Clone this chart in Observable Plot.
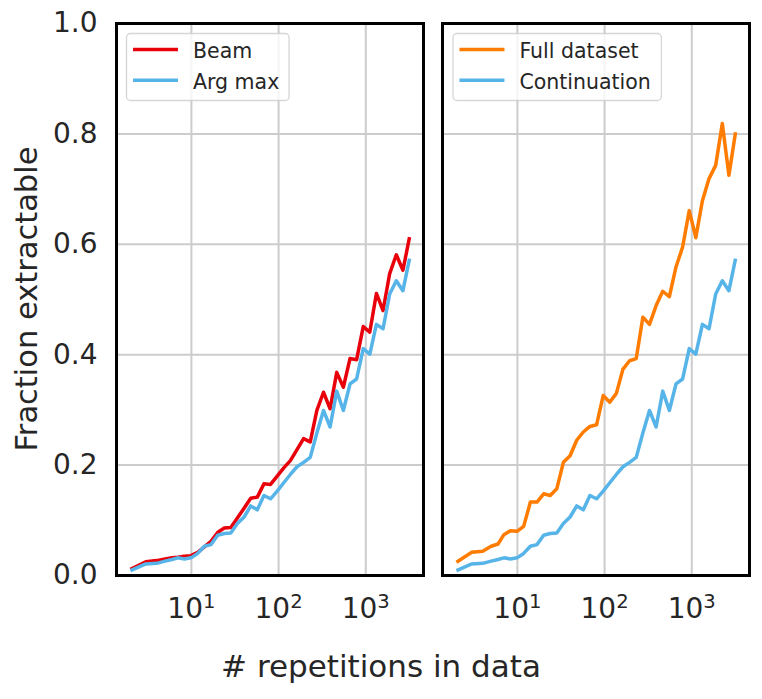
<!DOCTYPE html>
<html><head><meta charset="utf-8">
<script src="https://cdn.jsdelivr.net/npm/d3@7"></script>
<script src="https://cdn.jsdelivr.net/npm/@observablehq/plot@0.6"></script>
<style>
body{margin:0;background:#fff;}
#chart{position:relative;width:762px;height:699px;}
</style>
</head><body><div id="chart"></div>
<script>
// ---- data ----
const reps = [2,3,4,5,6,7,8.3,9.9,11.8,14.1,16.8,20,23.8,28.3,33.7,40.2,47.9,57,67.9,80.9,96.4,114.7,136.5,162.6,193.6,230.7,274.8,327.3,389.9,464.5,553.3,659.2,785.2,935.4,1112,1324,1578,1880,2239,2667,3177];
const beam = [0.011,0.025,0.027,0.030,0.032,0.033,0.035,0.036,0.042,0.052,0.062,0.078,0.086,0.087,0.104,0.122,0.140,0.142,0.166,0.165,0.180,0.195,0.208,0.228,0.248,0.242,0.299,0.332,0.302,0.368,0.341,0.393,0.391,0.451,0.441,0.511,0.480,0.547,0.581,0.553,0.613];
const argMax = [0.009,0.021,0.022,0.026,0.029,0.032,0.030,0.032,0.040,0.053,0.056,0.073,0.076,0.077,0.094,0.106,0.126,0.119,0.145,0.139,0.153,0.168,0.183,0.197,0.205,0.214,0.258,0.299,0.269,0.334,0.299,0.347,0.356,0.411,0.401,0.455,0.447,0.510,0.534,0.516,0.574];
const fullDataset = [0.024,0.042,0.044,0.053,0.057,0.074,0.081,0.080,0.089,0.133,0.133,0.148,0.145,0.157,0.205,0.217,0.245,0.260,0.270,0.273,0.326,0.314,0.330,0.374,0.389,0.393,0.468,0.455,0.489,0.515,0.505,0.559,0.595,0.661,0.612,0.679,0.719,0.743,0.819,0.725,0.803];
const continuation = [0.009,0.021,0.022,0.026,0.029,0.032,0.030,0.032,0.040,0.053,0.056,0.073,0.076,0.077,0.094,0.106,0.126,0.119,0.145,0.139,0.153,0.168,0.183,0.197,0.205,0.214,0.258,0.299,0.269,0.334,0.299,0.347,0.356,0.411,0.401,0.455,0.447,0.510,0.534,0.516,0.574];

const panels = ["left", "right"];
const leftSeries = ["Beam", "Arg max"];
const rightSeries = ["Full dataset", "Continuation"];
const seriesColors = ["#e8000b", "#56b4e9", "#ff7c00", "#56b4e9"];
const yTicks = [0, 0.2, 0.4, 0.6, 0.8, 1.0];
const yGrid = [0.2, 0.4, 0.6, 0.8];
const xTicks = [10, 100, 1000];
const xTitle = "# repetitions in data";
const yTitle = "Fraction extractable";

// ---- build long table ----
const rows = [];
function add(panel, series, values) {
  values.forEach((v, i) => rows.push({panel, series, x: reps[i], y: v}));
}
add("left", leftSeries[0], beam);
add("left", leftSeries[1], argMax);
add("right", rightSeries[0], fullDataset);
add("right", rightSeries[1], continuation);

const allSeries = [...leftSeries, ...rightSeries];
const textColor = "#262626";
const font = "DejaVu Sans";

const marginLeft = 116, marginRight = 12, marginTop = 23, marginBottom = 124;
const W = 762, H = 699;
const padInner = 0.058;

const chart = Plot.plot({
  width: W, height: H,
  marginLeft, marginRight, marginTop, marginBottom,
  style: {fontFamily: font, fontSize: "28px", color: textColor, background: "white", overflow: "visible"},
  fx: {domain: panels, paddingInner: padInner, paddingOuter: 0, axis: null, label: null},
  x: {type: "log", domain: [1.384, 4592], label: null},
  y: {domain: [0, 1], label: null},
  color: {domain: allSeries, range: seriesColors},
  marks: [
    Plot.gridY(yGrid, {stroke: "#cccccc", strokeOpacity: 1, strokeWidth: 2}),
    Plot.gridX(xTicks, {stroke: "#cccccc", strokeOpacity: 1, strokeWidth: 2}),
    Plot.line(rows, {fx: "panel", x: "x", y: "y", z: "series", stroke: "series", strokeWidth: 3.5, strokeLinejoin: "round", strokeLinecap: "butt"}),
    Plot.frame({stroke: "black", strokeWidth: 3}),
    Plot.axisY(yTicks, {tickSize: 0, tickPadding: 19, tickFormat: d3.format(".1f"), fontSize: 28}),
    Plot.axisX(xTicks, {tickSize: 0, tickPadding: 23, tickFormat: d => "10^" + Math.round(Math.log10(d)), fontSize: 28})
  ]
});

document.getElementById("chart").appendChild(chart);
const svg = d3.select(chart);

// superscript exponents on x tick labels
svg.selectAll('g[aria-label="x-axis tick label"] text').each(function() {
  const t = d3.select(this);
  const s = t.text();
  const parts = s.split("^");
  if (parts.length === 2) {
    t.text(null);
    t.append("tspan").text(parts[0]);
    t.append("tspan").attr("dy", -10).attr("font-size", "0.7em").text(parts[1]);
  }
});

// axis titles
svg.append("text")
  .attr("x", W / 2).attr("y", 677)
  .attr("text-anchor", "middle")
  .attr("font-family", font).attr("font-size", 31).attr("fill", textColor)
  .text(xTitle);
svg.append("text")
  .attr("transform", `translate(37,${(marginTop + (H - marginBottom)) / 2}) rotate(-90)`)
  .attr("text-anchor", "middle")
  .attr("font-family", font).attr("font-size", 30.5).attr("fill", textColor)
  .text(yTitle);

// legends
const step = (W - marginLeft - marginRight) / (2 - padInner);
function legend(panelIndex, names, colors, boxW) {
  const x0 = marginLeft + panelIndex * step + 10.5;
  const y0 = marginTop + 10.5;
  const g = svg.append("g");
  g.append("rect").attr("x", x0).attr("y", y0).attr("width", boxW).attr("height", 67)
    .attr("rx", 4).attr("fill", "white").attr("fill-opacity", 0.8)
    .attr("stroke", "#cccccc").attr("stroke-opacity", 0.8).attr("stroke-width", 1.3);
  names.forEach((n, i) => {
    const yy = y0 + 16 + i * 30.7;
    g.append("line").attr("x1", x0 + 6.5).attr("x2", x0 + 51.5).attr("y1", yy).attr("y2", yy)
      .attr("stroke", colors[i]).attr("stroke-width", 3.5);
    g.append("text").attr("x", x0 + 66.5).attr("y", yy + 8.3)
      .attr("text-anchor", "start")
      .attr("font-family", font).attr("font-size", 20.5).attr("fill", textColor).text(n);
  });
}
legend(0, leftSeries, seriesColors.slice(0, 2), 162.6);
legend(1, rightSeries, seriesColors.slice(2, 4), 208.4);
</script>
</body></html>
